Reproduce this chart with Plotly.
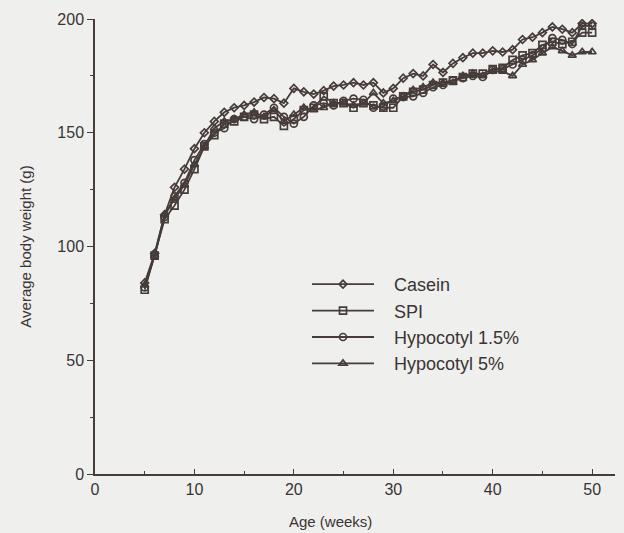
import plotly.graph_objects as go

weeks = list(range(5, 51))

casein = [84, 97, 114, 126, 134, 143, 150, 155, 159, 161, 162, 163.5, 165.5, 165, 163,
          169.5, 168, 167, 168.5, 170.5, 171, 172, 171, 172, 167.5, 169.5, 174, 176, 175, 180,
          176.5, 180.5, 183, 185, 185, 186, 185.5, 186.5, 191, 192, 194, 196.5, 195.5, 194, 198, 198]

spi = [81, 96, 112, 118, 125, 134, 144, 149, 154, 155, 157, 158, 156, 157, 153,
       156, 160, 161, 166, 163, 163, 161, 163, 162, 161, 161, 166, 168, 169, 171,
       172, 173, 174.5, 176, 176, 178, 178.5, 182, 184, 185, 188.6, 190, 189, 190, 194, 194]

hyp15 = [82, 96, 113, 122, 128, 138, 145, 150, 152, 156, 157, 156, 158, 161, 157,
         154, 157, 162, 163, 162, 164, 165, 164.5, 161, 161.5, 165, 165.7, 166, 167.5, 170,
         171, 173, 174, 175, 174.5, 177.6, 178, 180, 182, 184, 187, 191.6, 190.8, 189, 197, 197]

hyp5 = [83, 96, 114, 121, 127, 136, 144, 152, 155, 156, 158, 159, 157, 160, 155,
        158, 161, 160, 161, 163, 163, 162, 163, 167.5, 163, 164, 166, 168.8, 170, 172,
        172, 172, 175, 176, 175, 177, 177, 175, 180, 182, 185, 187.7, 186, 184, 185.5, 185.5]

series_names = ["Casein", "SPI", "Hypocotyl 1.5%", "Hypocotyl 5%"]
series_values = [casein, spi, hyp15, hyp5]
symbols = ["diamond-open", "square-open", "circle-open", "triangle-up-open"]
sizes = [6, 7, 7, 7]

ink = "#463c3a"
bg = "#efefed"

fig = go.Figure()
for name, vals, sym, sz in zip(series_names, series_values, symbols, sizes):
    fig.add_trace(go.Scatter(
        x=weeks, y=vals, name="   " + name, mode="lines+markers",
        line=dict(color=ink, width=1.8),
        marker=dict(symbol=sym, size=sz, color=ink, line=dict(color=ink, width=1.7)),
    ))

fig.update_layout(
    width=624, height=533,
    margin=dict(l=95, r=9, t=19, b=59),
    paper_bgcolor=bg, plot_bgcolor=bg,
    font=dict(family="Liberation Sans, Arial, sans-serif", size=16, color="#3a3434"),
    showlegend=True,
    legend=dict(
        x=(307 - 95) / 520, y=(474 - 266) / 455, xanchor="left", yanchor="top",
        bgcolor="rgba(0,0,0,0)", itemwidth=62,
        font=dict(size=18), tracegroupgap=0,
    ),
    xaxis=dict(
        range=[0, 52.3], tickvals=[0, 10, 20, 30, 40, 50],
        showgrid=False, zeroline=False,
        showline=True, linecolor=ink, linewidth=1.5,
        ticks="inside", ticklen=5, tickcolor=ink, tickwidth=1.2,
        minor=dict(dtick=5, tick0=0, ticks="inside", ticklen=3, tickcolor=ink),
        tickfont=dict(size=16),
    ),
    yaxis=dict(
        range=[0, 200], tickvals=[0, 50, 100, 150, 200],
        showgrid=False, zeroline=False,
        showline=True, linecolor=ink, linewidth=1.5,
        ticks="outside", ticklen=6, tickcolor=ink, tickwidth=1.2,
        minor=dict(dtick=25, tick0=0, ticks="outside", ticklen=3, tickcolor=ink),
        tickfont=dict(size=16),
        title=dict(text="Average body weight (g)", font=dict(size=15), standoff=22),
    ),
    annotations=[dict(
        text="Age (weeks)", xref="paper", yref="paper",
        x=(330 - 95) / 520, y=-(521 - 474) / 455, xanchor="center", yanchor="middle",
        showarrow=False, font=dict(size=15),
    )],
)

fig.write_html(
    "out.html",
    config={"displayModeBar": False},
    post_script="document.body.style.margin='0';document.body.style.overflow='hidden';"
                "document.body.style.background='#efefed';",
)
